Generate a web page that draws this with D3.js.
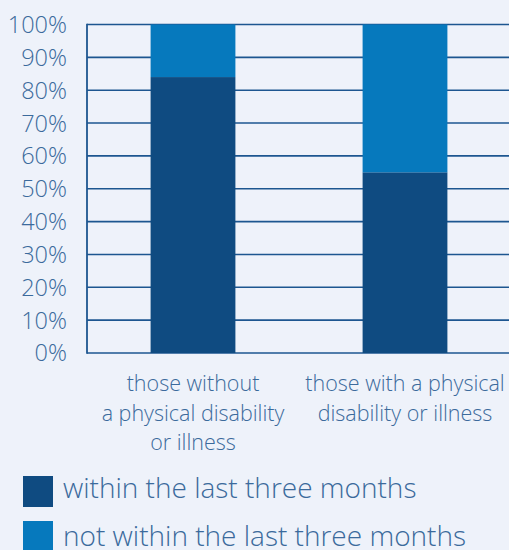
<!DOCTYPE html>
<html>
<head>
<meta charset="utf-8">
<script src="https://cdn.jsdelivr.net/npm/d3@7"></script>
<style>
  html, body { margin: 0; padding: 0; background: #eef2fa; }
  svg { display: block; }
  text { font-family: "Open Sans", sans-serif; font-weight: 300; fill: #3b6a9c; }
</style>
</head>
<body>
<div class="canva"></div>
<script>
const categories = [
  ["those without", "a physical disability", "or illness"],
  ["those with a physical", "disability or illness"]
];
const within = [84, 55];
const notWithin = [16, 45];
const seriesNames = ["within the last three months", "not within the last three months"];
const seriesColors = ["#0f4b81", "#0679bd"];
const tickValues = [0, 10, 20, 30, 40, 50, 60, 70, 80, 90, 100];

const WIDTH = 509;
const HEIGHT = 550;
const MARGIN = { TOP: 24.5, LEFT: 87, BOTTOM: 353 };

const svg = d3.select(".canva").append("svg")
    .attr("width", WIDTH)
    .attr("height", HEIGHT);

const x = d3.scaleBand()
    .domain(d3.range(categories.length))
    .range([87, 511])
    .paddingInner(0.6)
    .paddingOuter(0.3);

const y = d3.scaleLinear()
    .domain([0, 100])
    .range([MARGIN.BOTTOM, MARGIN.TOP]);

// gridlines
svg.append("g")
    .selectAll("line")
    .data(tickValues)
    .enter().append("line")
    .attr("x1", MARGIN.LEFT)
    .attr("x2", WIDTH)
    .attr("y1", d => y(d))
    .attr("y2", d => y(d))
    .attr("stroke", "#1d5690")
    .attr("stroke-width", 1.6);

// y labels
svg.append("g")
    .selectAll("text")
    .data(tickValues)
    .enter().append("text")
    .attr("x", 67)
    .attr("y", d => y(d))
    .attr("dy", "0.36em")
    .attr("text-anchor", "end")
    .style("font-size", "23.5px")
    .text(d => d + "%");

// stacked bars
const stackData = within.map((w, i) => ({ i: i, within: w, notWithin: notWithin[i] }));
const stack = d3.stack().keys(["within", "notWithin"])(stackData);

svg.append("g")
    .selectAll("g")
    .data(stack)
    .enter().append("g")
    .attr("fill", (d, k) => seriesColors[k])
    .selectAll("rect")
    .data(d => d)
    .enter().append("rect")
    .attr("x", d => x(d.data.i))
    .attr("width", x.bandwidth())
    .attr("y", d => y(d[1]))
    .attr("height", d => y(d[0]) - y(d[1]));

// y axis line
svg.append("line")
    .attr("x1", MARGIN.LEFT).attr("x2", MARGIN.LEFT)
    .attr("y1", MARGIN.TOP - 0.8).attr("y2", MARGIN.BOTTOM + 0.8)
    .attr("stroke", "#1d5690")
    .attr("stroke-width", 1.8);

// category labels
svg.append("g")
    .selectAll("text")
    .data(categories)
    .enter().append("text")
    .attr("text-anchor", "middle")
    .style("font-size", "21.5px")
    .attr("transform", (d, i) => `translate(${x(i) + x.bandwidth() / 2}, 391)`)
    .selectAll("tspan")
    .data(d => d)
    .enter().append("tspan")
    .attr("x", 0)
    .attr("y", (d, j) => j * 29.5)
    .text(d => d);

// legend
const legend = svg.append("g")
    .selectAll("g")
    .data(seriesNames)
    .enter().append("g");

legend.append("rect")
    .attr("x", 23)
    .attr("y", (d, i) => 476 + i * 45)
    .attr("width", 30)
    .attr("height", 31)
    .attr("fill", (d, i) => seriesColors[i]);

legend.append("text")
    .attr("x", 63)
    .attr("y", (d, i) => 498 + i * 47.5)
    .style("font-size", "28px")
    .text(d => d);
</script>
</body>
</html>
